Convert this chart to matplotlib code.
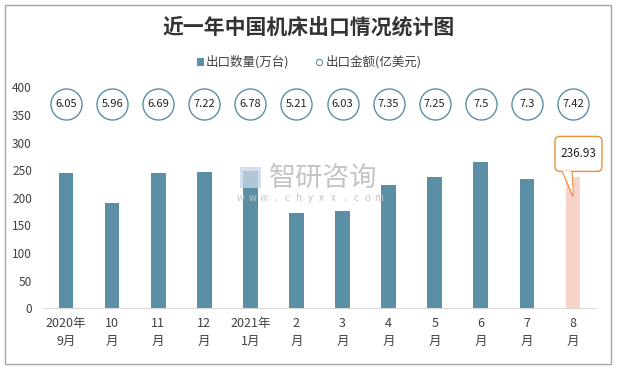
import matplotlib
matplotlib.use("Agg")
import matplotlib.pyplot as plt
from matplotlib.patches import Rectangle, FancyBboxPatch, Polygon
from matplotlib.transforms import IdentityTransform

plt.rcParams['font.family'] = ['Noto Sans CJK SC', 'DejaVu Sans']

categories = ["2020年\n9月", "10\n月", "11\n月", "12\n月", "2021年\n1月", "2\n月",
              "3\n月", "4\n月", "5\n月", "6\n月", "7\n月", "8\n月"]
quantity = [244, 191, 244, 246, 248, 173, 177, 223, 237, 264, 234, 236.93]
amount = [6.05, 5.96, 6.69, 7.22, 6.78, 5.21, 6.03, 7.35, 7.25, 7.5, 7.3, 7.42]
yticks = [0, 50, 100, 150, 200, 250, 300, 350, 400]
title = "近一年中国机床出口情况统计图"
legend_labels = ["出口数量(万台)", "出口金额(亿美元)"]

bar_color = "#5B8FA6"
hl_color = "#F8D3C9"
callout_color = "#E8923A"
W, H = 617, 369

fig = plt.figure(figsize=(W/100, H/100), dpi=100)
fig.patch.set_facecolor("white")
# outer frame
fig.patches.append(Rectangle((5/W, 1-364/H), 606/W, 359/H, transform=fig.transFigure,
                             fill=False, ec="#A6A6A6", lw=1.0))

ax = fig.add_axes([43/W, 1-308.3/H, 553/W, (308.3-87.3)/H])
x = list(range(len(categories)))
colors = [bar_color]*(len(categories)-1) + [hl_color]
ax.bar(x, quantity, width=0.32, color=colors, zorder=2)
ax.set_xlim(-0.5, len(categories)-0.5)
ax.set_ylim(0, 400)
ax.set_yticks(yticks)
ax.set_yticklabels([str(v) for v in yticks], fontsize=8.5, color="#404040")
ax.set_xticks(x)
ax.set_xticklabels(categories, fontsize=9, color="#404040", linespacing=1.5)
ax.tick_params(axis='both', length=0)
ax.tick_params(axis='y', pad=8)
ax.tick_params(axis='x', pad=6)
for s in ["top", "right", "left"]:
    ax.spines[s].set_visible(False)
ax.spines["bottom"].set_color("#D9D9D9")

# amount circles
circle_y = 370
ax.scatter(x, [circle_y]*len(x), s=500, facecolor="white", edgecolor=bar_color,
           linewidth=1.0, zorder=3, clip_on=False)
for xi, v in zip(x, amount):
    ax.text(xi, circle_y, f"{v:g}", ha="center", va="center", fontsize=8, color="#222222",
            zorder=4)

# callout for last bar (drawn in pixel space relative to the bar top)
last = len(x) - 1
px, py = ax.transData.transform((last, quantity[-1]))
tip = (px, py - 19)
bx0, bx1 = px - 18, px + 29
by0, by1 = py + 6, py + 41
ax.add_patch(Polygon([[px - 11, by0 + 1], [px - 1, by0 + 1], tip],
                     closed=True, fc="white", ec=callout_color, lw=1.0, zorder=5,
                     transform=IdentityTransform(), clip_on=False))
ax.add_patch(FancyBboxPatch((bx0, by0), bx1 - bx0, by1 - by0,
                            boxstyle="round,pad=0,rounding_size=5",
                            fc="white", ec=callout_color, lw=1.0, zorder=5,
                            transform=IdentityTransform(), clip_on=False))
ax.add_patch(Polygon([[px - 10.2, by0 + 0.5], [px - 1.8, by0 + 0.5], (tip[0], tip[1] + 2)],
                     closed=True, fc="white", ec="none", zorder=6,
                     transform=IdentityTransform(), clip_on=False))
ax.text((bx0 + bx1) / 2, (by0 + by1) / 2, f"{quantity[-1]:.2f}", ha="center", va="center",
        fontsize=8.5, color="#222222", zorder=7, transform=IdentityTransform())

# watermark
fig.patches.append(Rectangle((240/W, 1-188/H), 21/W, 21/H, transform=fig.transFigure,
                             fc="#C9D5E6", ec="none", alpha=0.8, zorder=10))
fig.text(269/W, 1-178/H, "智研咨询", fontsize=19.5, color="#C4C4C4", va="center",
         ha="left", zorder=10)
wm = "www.chyxx.com"
for i, ch in enumerate(wm):
    fig.text((241 + i*11.5)/W, 1-198/H, ch, fontsize=7, color="#C4C4C4",
             va="center", ha="center", zorder=10)

# title
fig.text(0.5, 1-27/H, title, ha="center", va="center", fontsize=15, fontweight="bold",
         color="#333333")

# legend
ly = 1-62/H
fig.patches.append(Rectangle((197/W, ly - 4/H), 7/W, 8/H, transform=fig.transFigure,
                             fc=bar_color, ec="none"))
fig.text(206/W, ly, legend_labels[0], ha="left", va="center", fontsize=9, color="#404040")
fig.lines.append(plt.Line2D([319/W], [ly], marker="o", markersize=4.5, mfc="white",
                            mec=bar_color, mew=0.8, transform=fig.transFigure))
fig.text(326/W, ly, legend_labels[1], ha="left", va="center", fontsize=9, color="#404040")

fig.savefig("out.png", dpi=100)
